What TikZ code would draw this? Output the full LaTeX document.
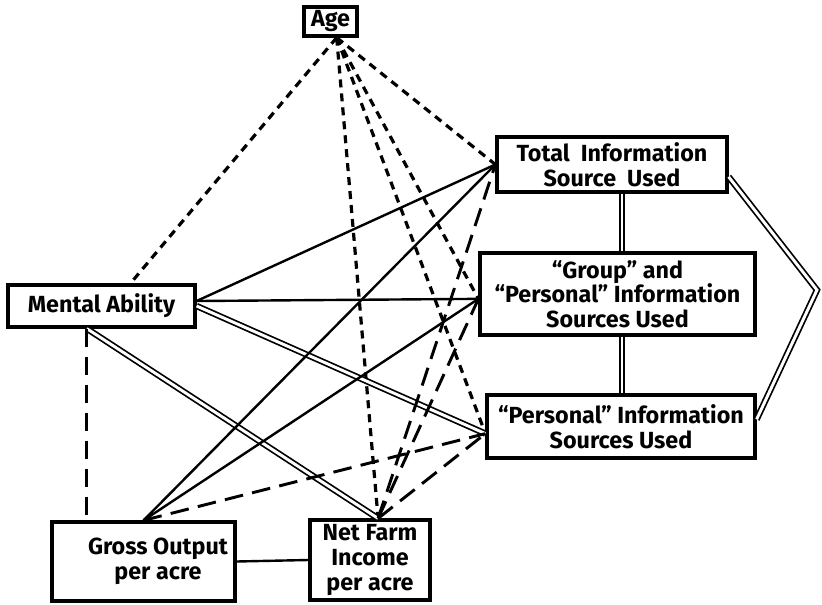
\documentclass[tikz,border=0pt]{standalone}
\usepackage{fontspec}
\setmainfont{Fira Sans}
\begin{document}
\begin{tikzpicture}[x=0.75pt,y=0.75pt,yscale=-1,xscale=1,
  box/.style={draw, line width=2.4pt, inner sep=0pt, align=center, font=\bfseries\fontsize{17.5}{18.5}\selectfont},
  sdash/.style={line width=2.4pt, dash pattern=on 6pt off 4.5pt},
  ldash/.style={line width=2.2pt, dash pattern=on 14pt off 7pt},
  sline/.style={line width=1.8pt},
  dline/.style={double, line width=1.3pt, double distance=2.2pt}]
\useasboundingbox (0,0) rectangle (822,604);

% Boxes
\node[box, minimum width=39.75pt, minimum height=21.75pt] (age) at (330.5,21.5) {Age};
\node[box, minimum width=172.5pt, minimum height=41.25pt] (tot) at (612,164.5) {Total\ \ Information\\Source\ \ Used};
\node[box, minimum width=206.25pt, minimum height=61.5pt] (grp) at (617.5,294) {``Group'' and\\``Personal'' Information\\Sources Used};
\node[box, minimum width=201pt, minimum height=47.25pt] (per) at (621,426.5) {``Personal'' Information\\Sources Used};
\node[box, minimum width=140.25pt, minimum height=31.5pt] (ma) at (101.5,306) {Mental Ability};
\node[box, minimum width=137.25pt, minimum height=59.25pt] (gro) at (143.5,561.5) {};
\node[box, draw=none] (grolbl) at (158,561) {Gross Output\\per acre};
\node[box, minimum width=90pt, minimum height=60pt] (net) at (370,560) {Net Farm\\Income\\per acre};
\coordinate (rbend) at (817,290);

% Age
\draw[sdash] (age.291) -- (ma.38);
\draw[sdash] (age.291) -- (tot.west);
\draw[sdash] (age.291) -- (grp.182);
\draw[sdash] (age.291) -- (per.183);
\draw[sdash] (age.291) -- (net.79);

% Mental Ability
\draw[sline] (ma.3) -- (tot.west);
\draw[sline] (ma.3) -- (grp.182);
\draw[dline] (ma.east) -- (per.183);
\draw[dline] (ma.237) -- (net.79);
\draw[ldash] (ma.237) -- (ma.237 |- gro.north);

% Gross Output
\draw[sline] (gro.north) -- (tot.west);
\draw[sline] (gro.north) -- (grp.182);
\draw[ldash] (gro.north) -- (per.183);
\draw[sline] (gro.east) -- (net.west);

% Net Farm Income
\draw[ldash] (net.79) -- (tot.west);
\draw[ldash] (net.79) -- (grp.182);
\draw[ldash] (net.79) -- (per.183);

% Information sources
\draw[dline] ([xshift=7.5pt]tot.south) -- ([xshift=7.5pt]tot.south |- grp.north);
\draw[dline] ([xshift=7.5pt]tot.south |- grp.south) -- ([xshift=7.5pt]tot.south |- per.north);
\draw[dline, line join=miter] (tot.-6) -- (rbend) -- (per.3);

\end{tikzpicture}
\end{document}
